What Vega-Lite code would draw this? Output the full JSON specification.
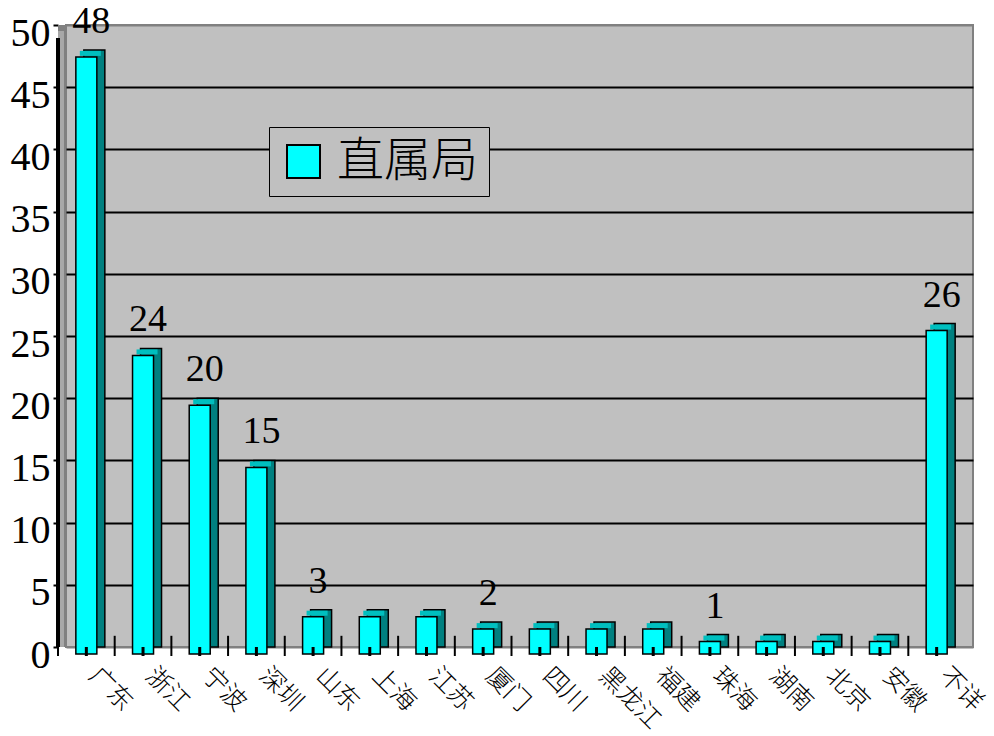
{
  "$schema": "https://vega.github.io/schema/vega-lite/v6.json",
  "autosize": "none",
  "width": 907,
  "height": 622,
  "padding": {"left": 66, "top": 25, "right": 21, "bottom": 89},
  "background": "white",
  "config": {
    "view": {"fill": "#C0C0C0", "stroke": "#808080", "strokeWidth": 2}
  },
  "data": {
    "values": [
      {"region": "广东", "count": 48, "label": "48", "series": "直属局"},
      {"region": "浙江", "count": 24, "label": "24", "series": "直属局"},
      {"region": "宁波", "count": 20, "label": "20", "series": "直属局"},
      {"region": "深圳", "count": 15, "label": "15", "series": "直属局"},
      {"region": "山东", "count": 3, "label": "3", "series": "直属局"},
      {"region": "上海", "count": 3, "label": "", "series": "直属局"},
      {"region": "江苏", "count": 3, "label": "", "series": "直属局"},
      {"region": "厦门", "count": 2, "label": "2", "series": "直属局"},
      {"region": "四川", "count": 2, "label": "", "series": "直属局"},
      {"region": "黑龙江", "count": 2, "label": "", "series": "直属局"},
      {"region": "福建", "count": 2, "label": "", "series": "直属局"},
      {"region": "珠海", "count": 1, "label": "1", "series": "直属局"},
      {"region": "湖南", "count": 1, "label": "", "series": "直属局"},
      {"region": "北京", "count": 1, "label": "", "series": "直属局"},
      {"region": "安徽", "count": 1, "label": "", "series": "直属局"},
      {"region": "不详", "count": 26, "label": "26", "series": "直属局"}
    ]
  },
  "encoding": {
    "x": {
      "field": "region",
      "type": "nominal",
      "sort": null,
      "scale": {"paddingInner": 0, "paddingOuter": 0},
      "axis": {
        "title": null,
        "orient": "bottom",
        "offset": 9,
        "domain": false,
        "ticks": false,
        "labelAngle": 45,
        "labelAlign": "left",
        "labelBaseline": "middle",
        "labelOffset": -1,
        "labelPadding": 15,
        "labelFont": "Noto Sans CJK SC",
        "labelFontWeight": 300,
        "labelFontSize": 25,
        "labelColor": "black",
        "zindex": 1
      }
    },
    "y": {
      "field": "count",
      "type": "quantitative",
      "scale": {"domain": [0, 50], "nice": false},
      "axis": {
        "title": null,
        "offset": 8,
        "domain": false,
        "values": [0, 5, 10, 15, 20, 25, 30, 35, 40, 45, 50],
        "grid": true,
        "gridColor": {"condition": {"test": "datum.value === 50 || datum.value === 0", "value": "#808080"}, "value": "black"},
        "gridWidth": 2,
        "gridOpacity": 1,
        "ticks": true,
        "tickColor": "black",
        "tickWidth": 2,
        "tickSize": 5,
        "labelPadding": 3,
        "labelOffset": 8,
        "labelFlush": false,
        "labelOverlap": false,
        "labelFont": "Liberation Serif",
        "labelFontSize": 40,
        "labelColor": "black"
      }
    }
  },
  "layer": [
    {
      "mark": {"type": "rule", "color": "#808080", "strokeWidth": 8, "xOffset": -4},
      "encoding": {"x": {"value": 0}, "y": {"datum": 50}, "y2": {"datum": 0}}
    },
    {
      "mark": {"type": "rule", "color": "#A8A8A8", "strokeWidth": 5, "xOffset": -5},
      "encoding": {"x": {"value": 0}, "y": {"datum": 49.5}, "y2": {"datum": 0}}
    },
    {
      "mark": {"type": "rule", "color": "#808080", "strokeWidth": 8, "yOffset": 4, "xOffset": -4},
      "encoding": {"y": {"datum": 0}}
    },
    {
      "mark": {"type": "bar", "width": 21, "fill": "#008080", "stroke": "black", "strokeWidth": 1.5},
      "encoding": {"y2": {"datum": 0}}
    },
    {
      "mark": {"type": "tick", "orient": "horizontal", "size": 21, "thickness": 5, "xOffset": -4, "yOffset": 3.5, "color": "#00BFBF", "opacity": 1},
      "encoding": {}
    },
    {
      "mark": {"type": "bar", "width": 21, "stroke": "black", "strokeWidth": 1.5, "xOffset": -8, "yOffset": 7, "y2Offset": 7},
      "encoding": {
        "y2": {"datum": 0},
        "color": {
          "field": "series",
          "type": "nominal",
          "scale": {"range": ["#00FFFF"]},
          "legend": {
            "title": null,
            "orient": "none",
            "legendX": 203,
            "legendY": 102,
            "padding": 11,
            "fillColor": "#C0C0C0",
            "strokeColor": "black",
            "symbolType": "square",
            "symbolSize": 1089,
            "symbolStrokeColor": "black",
            "symbolStrokeWidth": 2,
            "symbolOpacity": 1,
            "labelFont": "Noto Sans CJK SC",
            "labelFontWeight": 300,
            "labelFontSize": 47,
            "labelColor": "black",
            "labelOffset": 10,
            "labelLimit": 400
          }
        }
      }
    },
    {
      "mark": {"type": "text", "baseline": "bottom", "dy": -9, "xOffset": -3, "font": "Liberation Serif", "fontSize": 38, "color": "black"},
      "encoding": {"text": {"field": "label"}}
    },
    {
      "mark": {"type": "rule", "color": "black", "strokeWidth": 3, "yOffset": 9, "xOffset": -8},
      "encoding": {"y": {"datum": 0}}
    },
    {
      "mark": {"type": "rule", "color": "black", "strokeWidth": 2, "xOffset": -36.34, "yOffset": 9},
      "encoding": {"y": {"datum": 0}, "y2": {"datum": 0.9}}
    },
    {
      "mark": {"type": "rule", "color": "black", "strokeWidth": 2.5, "xOffset": -8, "yOffset": 8},
      "encoding": {"x": {"value": 0}, "y": {"datum": 49.6}, "y2": {"datum": 0}}
    }
  ]
}
